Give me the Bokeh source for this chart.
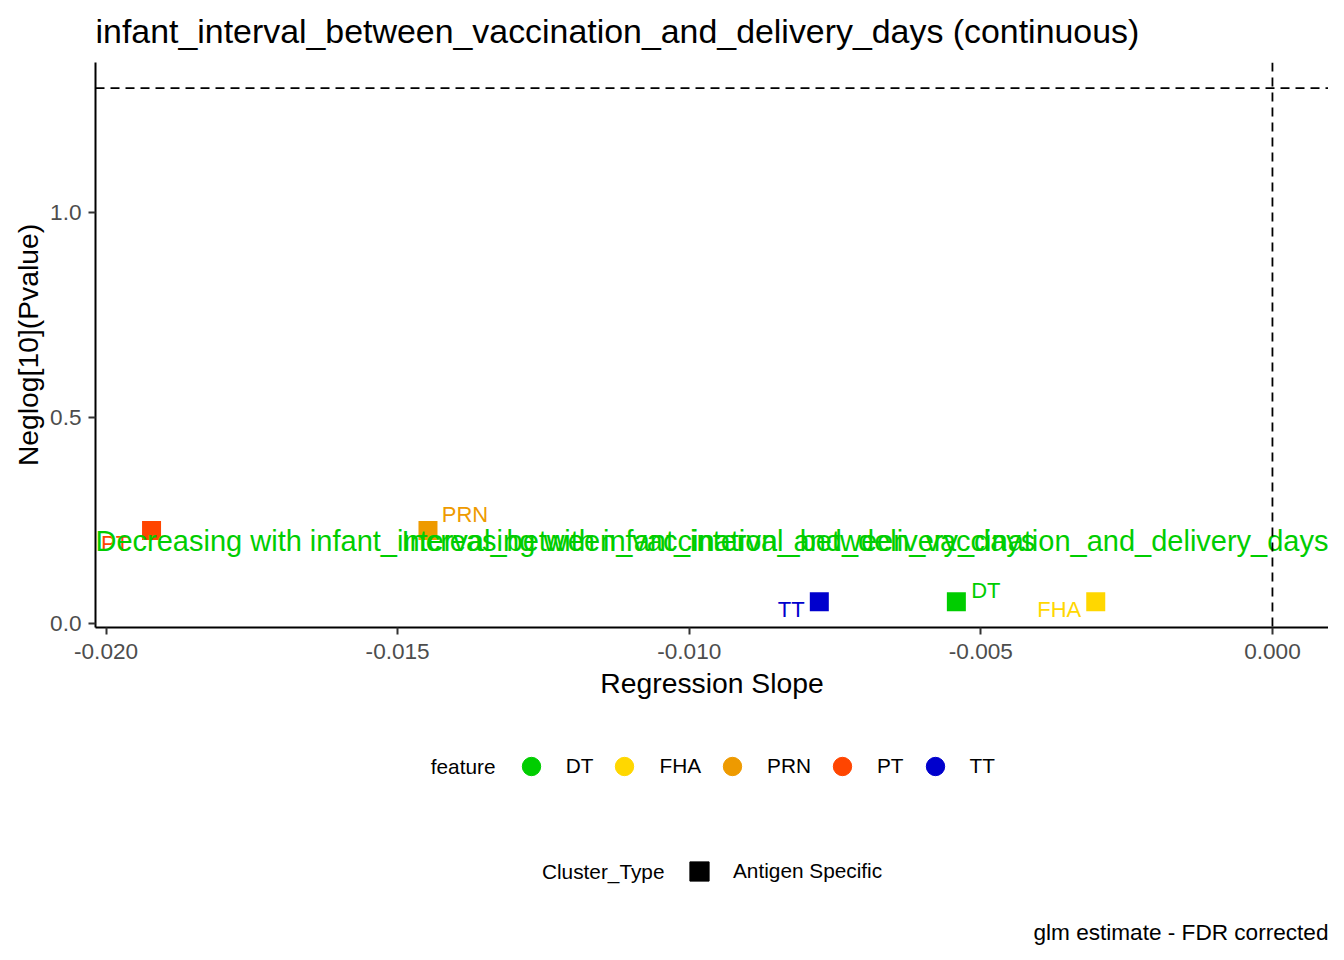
import numpy as np
from bokeh.plotting import figure
from bokeh.layouts import column
from bokeh.models import (ColumnDataSource, Range1d, FixedTicker, PrintfTickFormatter,
                          Span, Label, Legend, LegendItem)
from bokeh.embed import file_html
from bokeh.resources import INLINE
from bokeh.core.properties import value

# ---------------- data ----------------
features = ["DT", "FHA", "PRN", "PT", "TT"]
slopes = [-0.00542, -0.00303, -0.01448, -0.01922, -0.00777]
neglog_p = [0.053, 0.053, 0.226, 0.226, 0.053]
feature_colors = ["#00CD00", "#FFD700", "#EE9A00", "#FF4500", "#0000CD"]
cluster_types = ["Antigen Specific"]
x_ticks = [-0.020, -0.015, -0.010, -0.005, 0.000]
y_ticks = [0.0, 0.5, 1.0]
p_threshold = 0.05
slope_ref = 0.0
annot_y = 0.2
annot_dec = "Decreasing with infant_interval_between_vaccination_and_delivery_days"
annot_inc = "Increasing with infant_interval_between_vaccination_and_delivery_days"
title_text = "infant_interval_between_vaccination_and_delivery_days (continuous)"
x_label = "Regression Slope"
y_label = "Neglog[10](Pvalue)"
caption_text = "glm estimate - FDR corrected"
legend1_title = "feature"
legend2_title = "Cluster_Type"

# label offsets (screen px, styling of repelled labels)
label_dx = [29.5, -36.5, 37, -36.5, -28]
label_dy = [-11.5, 8, -16, 13, 8]

FONT = "Liberation Sans"
hline_y = -np.log10(p_threshold)

# ranges like ggplot (5% expansion, including reference lines)
xmin = min(min(slopes), slope_ref); xmax = max(max(slopes), slope_ref)
dx = xmax - xmin
ymin = min(min(neglog_p), hline_y); ymax = max(max(neglog_p), hline_y)
dy = ymax - ymin
X0, X1 = xmin - 0.05 * dx, xmax + 0.05 * dx
Y0, Y1 = ymin - 0.05 * dy, ymax + 0.05 * dy

W = 1328
H0 = 62          # header strip (title)
H1 = 720 - H0    # main plot
H2 = 232         # legend / caption strip
LEFT = 95


def strip(height):
    f = figure(width=W, height=height, output_backend="svg", toolbar_location=None,
               x_range=Range1d(0, 1), y_range=Range1d(0, 1),
               x_axis_type=None, y_axis_type=None,
               min_border_left=LEFT, min_border_right=0, min_border_top=0,
               min_border_bottom=0)
    f.outline_line_color = None
    f.grid.visible = False
    f.background_fill_color = "white"
    f.border_fill_color = "white"
    return f

# ---------------- header ----------------
h = strip(H0)
h.add_layout(Label(x=0, y=H0 - 30, x_units="screen", y_units="screen",
                   text=title_text, text_font=FONT, text_font_size="33.9px",
                   text_color="black", text_align="left", text_baseline="middle"))

# ---------------- main plot ----------------
p = figure(width=W, height=H1, output_backend="svg", toolbar_location=None,
           x_range=Range1d(X0, X1), y_range=Range1d(Y0, Y1),
           min_border_left=LEFT, min_border_right=0, min_border_top=0,
           min_border_bottom=720 - 627)
p.outline_line_color = None
p.xgrid.visible = False
p.ygrid.visible = False
p.background_fill_color = "white"
p.border_fill_color = "white"

for ax in (p.xaxis[0], p.yaxis[0]):
    ax.axis_line_width = 2
    ax.axis_line_color = "black"
    ax.major_tick_line_width = 2
    ax.major_tick_line_color = "#333333"
    ax.major_tick_out = 7
    ax.major_tick_in = 0
    ax.minor_tick_line_color = None
    ax.major_label_text_font = FONT
    ax.major_label_text_font_size = "22.6px"
    ax.major_label_text_color = "#4D4D4D"
    ax.axis_label_text_font = FONT
    ax.axis_label_text_font_size = "28.3px"
    ax.axis_label_text_font_style = "normal"
    ax.axis_label_text_color = "black"

p.xaxis[0].ticker = FixedTicker(ticks=x_ticks)
p.xaxis[0].formatter = PrintfTickFormatter(format="%.3f")
p.xaxis[0].axis_label = x_label
p.xaxis[0].major_label_standoff = 9
p.xaxis[0].axis_label_standoff = 5
p.yaxis[0].ticker = FixedTicker(ticks=y_ticks)
p.yaxis[0].formatter = PrintfTickFormatter(format="%.1f")
p.yaxis[0].axis_label = y_label
p.yaxis[0].major_label_standoff = 7
p.yaxis[0].axis_label_standoff = 3

# reference lines
p.add_layout(Span(location=hline_y, dimension="width", line_dash="9 6",
                  line_width=1.8, line_color="black"))
p.add_layout(Span(location=slope_ref, dimension="height", line_dash="9 6",
                  line_width=1.8, line_color="black"))

src = ColumnDataSource(dict(x=slopes, y=neglog_p, feature=features,
                            color=feature_colors, dx=label_dx, dy=label_dy))
p.scatter(x="x", y="y", source=src, marker="square", size=19,
          fill_color="color", line_color="color", line_width=0)
p.text(x="x", y="y", text="feature", source=src, x_offset="dx", y_offset="dy",
       text_color="color", text_font=value(FONT), text_font_size="22px",
       text_align="center", text_baseline="middle")

# annotation texts at panel edges
p.text(x=[X0], y=[annot_y], text=[annot_dec], text_color="#00CD00",
       text_font=value(FONT), text_font_size="29px",
       text_align="left", text_baseline="middle")
p.text(x=[X1], y=[annot_y], text=[annot_inc], text_color="#00CD00",
       text_font=value(FONT), text_font_size="29px",
       text_align="right", text_baseline="middle")

# ---------------- legend / caption strip ----------------
q = strip(H2)
BOT2 = 720 + H2

def sy(screen_y):
    return BOT2 - screen_y

def sx(screen_x):
    return screen_x - LEFT

# legend 1: feature (circles) -- key-only renderers (NaN data, nothing drawn in frame)
items = []
for f, c in zip(features, feature_colors):
    r = q.scatter(x=[np.nan], y=[np.nan], marker="circle", size=18, fill_color=c, line_color=c)
    items.append(LegendItem(label=f, renderers=[r]))
leg1 = Legend(items=items, orientation="horizontal", location=(sx(507.7), sy(766) - 23),
              glyph_width=46, glyph_height=46, label_height=46, label_standoff=12,
              spacing=8, padding=0, margin=0, border_line_color=None,
              background_fill_alpha=0, label_text_font=FONT,
              label_text_font_size="20.8px", label_text_color="black")
q.add_layout(leg1)
q.add_layout(Label(x=sx(495), y=sy(766), x_units="screen", y_units="screen",
                   text=legend1_title, text_font=FONT, text_font_size="20.8px",
                   text_color="black", text_align="right", text_baseline="middle"))

# legend 2: Cluster_Type (square)
items2 = []
for ct in cluster_types:
    r = q.scatter(x=[np.nan], y=[np.nan], marker="square", size=19,
                  fill_color="black", line_color="black")
    items2.append(LegendItem(label=ct, renderers=[r]))
leg2 = Legend(items=items2, orientation="horizontal", location=(sx(675), sy(871) - 24),
              glyph_width=48, glyph_height=48, label_height=48, label_standoff=10,
              spacing=8, padding=0, margin=0, border_line_color=None,
              background_fill_alpha=0, label_text_font=FONT,
              label_text_font_size="20.8px", label_text_color="black")
q.add_layout(leg2)
q.add_layout(Label(x=sx(664), y=sy(871), x_units="screen", y_units="screen",
                   text=legend2_title, text_font=FONT, text_font_size="20.8px",
                   text_color="black", text_align="right", text_baseline="middle"))

# caption
q.add_layout(Label(x=sx(W), y=sy(932), x_units="screen", y_units="screen",
                   text=caption_text, text_font=FONT, text_font_size="22.6px",
                   text_color="black", text_align="right", text_baseline="middle"))

layout = column(h, p, q, spacing=0)
open("out.html", "w").write(file_html(layout, INLINE))
